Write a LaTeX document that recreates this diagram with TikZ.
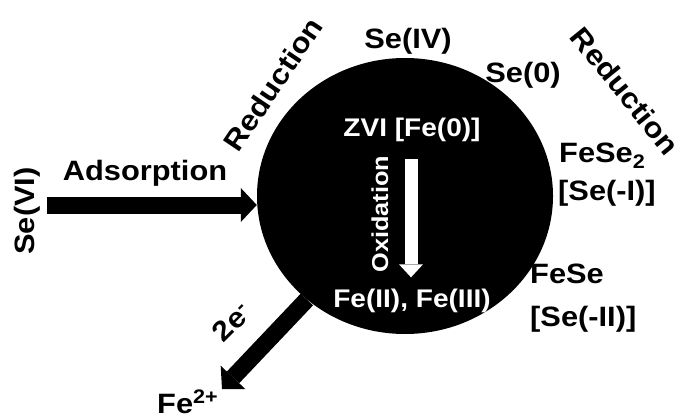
\documentclass[tikz,border=0pt]{standalone}
\usepackage{fontspec}
\setmainfont{Liberation Sans}[FakeStretch=1.1]
\usetikzlibrary{arrows.meta,shapes.geometric}
\tikzset{
  lbl/.style={inner sep=0pt, font=\bfseries\fontsize{28}{34}\selectfont},
  redlbl/.style={lbl, font=\bfseries\fontsize{28.5}{34}\selectfont},
  inlbl/.style={inner sep=0pt, text=white, font=\bfseries\fontsize{25.5}{30}\selectfont},
  oxlbl/.style={inner sep=0pt, text=white, font=\bfseries\fontsize{23}{28}\selectfont},
  particle/.style={ellipse, fill=black, minimum width=296pt, minimum height=276pt, inner sep=0pt},
  bigarrow/.style={line width=17pt, -{Triangle[width=34pt,length=16pt,line width=0pt]}},
  whitearrow/.style={draw=white, line width=13pt, -{Triangle[width=24pt,length=13pt,line width=0pt]}}
}
\begin{document}
\begin{tikzpicture}[x=1pt,y=1pt]
\useasboundingbox (0,0) rectangle (684,418);
% particle
\node[particle] (c) at (405,222) {};
% labels outside
\node[lbl, rotate=90] (sevi) at (27,207) {Se(VI)};
\node[lbl] (ads) at (145,245) {Adsorption};
\node[redlbl, rotate=56] (redL) at (273,334) {Reduction};
\node[lbl] (seiv) at (408,377) {Se(IV)};
\node[lbl] (se0) at (523,343) {Se(0)};
\node[redlbl, rotate=-51] (redR) at (625,327) {Reduction};
\node[lbl, anchor=base west] (fese2) at (559,255) {FeSe\textsubscript{2}};
\node[lbl, anchor=base west] (seI) at (558,218) {[Se(-I)]};
\node[lbl, anchor=base west] (fese) at (530,135) {FeSe};
\node[lbl, anchor=base west] (seII) at (530,92) {[Se(-II)]};
\node[lbl, rotate=45] (twoe) at (232,96) {2e\textsuperscript{-}};
\node[lbl, anchor=base west] (fe2) at (157,5) {Fe\textsuperscript{2+}};
\coordinate (fetip) at (222,29);
% labels inside
\node[inlbl, anchor=base] (zvi) at (412,281) {ZVI [Fe(0)]};
\node[inlbl, anchor=base] (feii) at (412,111) {Fe(II), Fe(III)};
\node[oxlbl, rotate=90] (ox) at (380,204) {Oxidation};
% connectors
\draw[bigarrow] ([shift={(7pt,6pt)}]sevi.south) -- ([yshift=-9pt]c.west);
\draw[bigarrow] (c) -- (fetip);
\draw[whitearrow, shorten <=17pt, shorten >=11pt] ([xshift=-1pt]zvi.south) -- ([xshift=-1pt]feii.north);
\end{tikzpicture}
\end{document}
